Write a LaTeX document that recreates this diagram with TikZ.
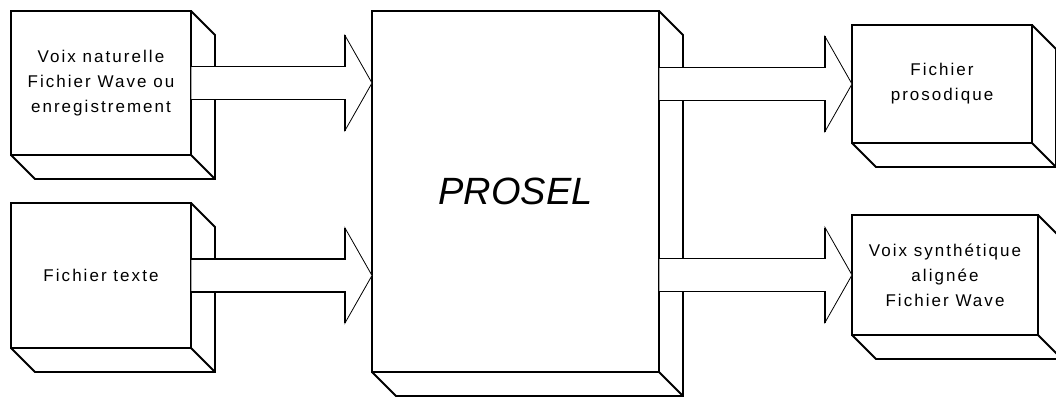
\documentclass[tikz,border=0pt]{standalone}
\usepackage{fontspec}
\setmainfont{Liberation Sans}
\newfontfamily\boxfont[LetterSpace=12]{Liberation Sans}
\usetikzlibrary{calc}

\tikzset{
  edge/.style={line width=1.8pt, line join=miter},
  box/.style={draw, edge, inner sep=0pt, outer sep=0pt, align=center,
    font=\boxfont\fontsize{17}{25}\selectfont},
  % white block arrow, thin outline (the head)
  arrowbody/.style={fill=white, line width=0.8pt,
    to path={-- ($(\tikztostart)+(0,-16.5)$) -- ($(\tikztotarget)+(-27,-16.5)$)
      -- ($(\tikztotarget)+(-27,-47.5)$) -- (\tikztotarget)
      -- ($(\tikztotarget)+(-27,47.5)$) -- ($(\tikztotarget)+(-27,16.5)$)
      -- ($(\tikztostart)+(0,16.5)$) -- (\tikztostart)}},
  % thick straight sides of the block arrow
  arrowedge/.style={edge,
    to path={($(\tikztostart)+(0,-16.5)$) -- ($(\tikztotarget)+(-27,-16.5)$)
      -- ($(\tikztotarget)+(-27,-47.5)$)
      ($(\tikztotarget)+(-27,47.5)$) -- ($(\tikztotarget)+(-27,16.5)$)
      -- ($(\tikztostart)+(0,16.5)$)}}
}

\begin{document}
\begin{tikzpicture}[x=1pt, y=-1pt]
    \useasboundingbox (0,0) rectangle (1056,396);

    % Front faces
    \node[box, minimum width=180, minimum height=144] (voix) at (101,83)
        {Voix naturelle\\Fichier Wave ou\\enregistrement};
    \node[box, minimum width=180, minimum height=145] (texte) at (101,275.5)
        {Fichier texte};
    \node[box, minimum width=287, minimum height=361,
        font=\fontsize{38}{40}\selectfont\itshape] (prosel) at (515.5,191.5) {PROSEL};
    \node[box, minimum width=180, minimum height=118] (proso) at (942,84)
        {Fichier\\prosodique};
    \node[box, minimum width=186, minimum height=120] (synth) at (945,275)
        {Voix synth\'etique\\align\'ee\\Fichier Wave};

    % Depth of the boxes
    \foreach \n in {voix,texte,prosel,proso,synth} {
        \draw[edge] (\n.north east) -- ++(24,24) |- ($(\n.south west)+(24,24)$)
            -- (\n.south west)
            (\n.south east) -- ++(24,24);
    }

    % Block arrows
    \foreach \a/\b in {voix.east/prosel.west |- voix.east,
                       texte.east/prosel.west |- texte.east,
                       prosel.east |- proso.west/proso.west,
                       prosel.east |- synth.west/synth.west} {
        \draw[arrowbody] (\a) to (\b);
        \draw[arrowedge] (\a) to (\b);
    }
\end{tikzpicture}
\end{document}
